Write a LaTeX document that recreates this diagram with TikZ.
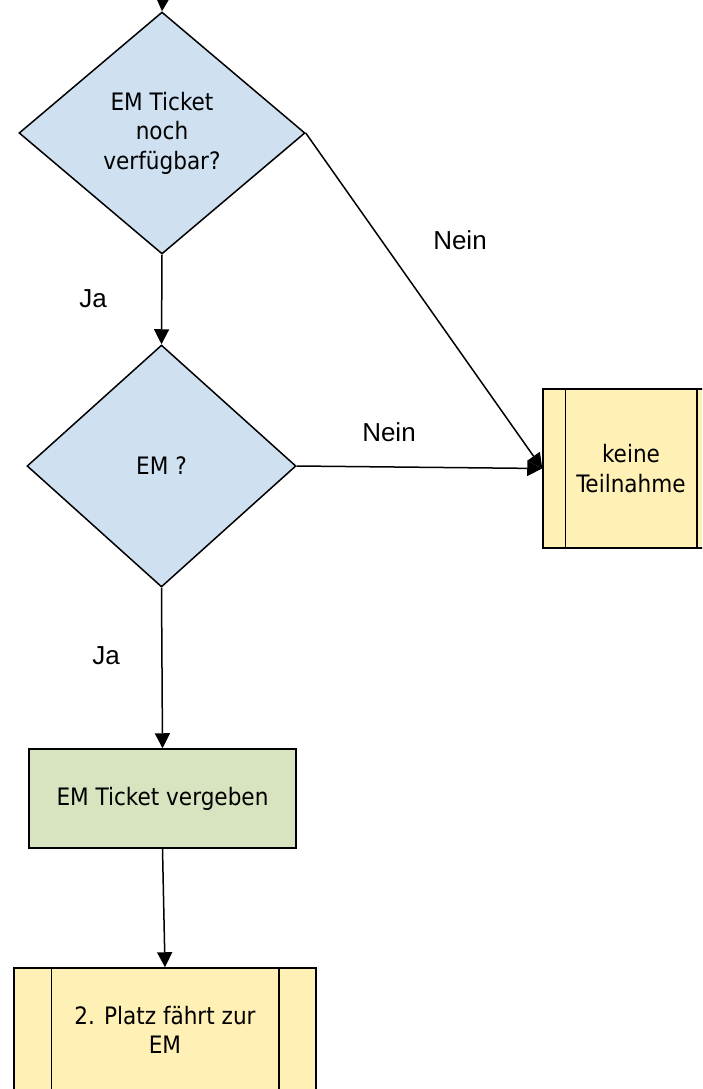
\documentclass[tikz,border=0pt]{standalone}
\usepackage{fontspec}
\setmainfont{Liberation Sans}
\newfontfamily\nodefont{DejaVu Sans Condensed}
\newfontfamily\labelfont{Liberation Sans}
\usetikzlibrary{shapes.geometric,arrows.meta}
\definecolor{dblue}{HTML}{CFE0F1}
\definecolor{pyellow}{HTML}{FFF1B5}
\definecolor{bgreen}{HTML}{D8E4BF}
\tikzset{
  nodetext/.style={font=\nodefont\fontsize{24}{29.5}\selectfont},
  dec/.style={diamond, draw=black, line width=1.5pt, fill=dblue, inner sep=0pt, align=center, nodetext},
  procbox/.style={rectangle, draw=black, line width=1.5pt, fill=bgreen, inner sep=0pt, align=center, nodetext},
  subbox/.style={rectangle, draw=black, line width=1.5pt, fill=pyellow, inner sep=0pt, align=center, nodetext},
  arr/.style={line width=1.5pt, -{Triangle[width=15pt,length=15pt]}},
  lbl/.style={font=\labelfont\fontsize{26}{30}\selectfont, inner sep=0pt}
}
\begin{document}
\begin{tikzpicture}[x=1pt,y=-1pt]
\useasboundingbox (0,0) rectangle (702,1089);
\clip (0,0) rectangle (702,1089);
\fill[white] (0,0) rectangle (702,1089);
% nodes
\node[dec, minimum width=286pt, minimum height=242pt] (d1) at (162,133) {EM Ticket\\noch\\verfügbar?};
\node[dec, minimum width=269pt, minimum height=242pt] (d2) at (161.5,466) {EM ?};
\node[subbox, minimum width=176pt, minimum height=159pt] (k) at (631,468.5) {keine\\Teilnahme};
\draw[line width=1.5pt] ([xshift=23pt]k.north west) -- ([xshift=23pt]k.south west);
\draw[line width=1.5pt] ([xshift=-23pt]k.north east) -- ([xshift=-23pt]k.south east);
\node[procbox, minimum width=267pt, minimum height=99pt] (g) at (162.5,798.5) {EM Ticket vergeben};
\node[subbox, minimum width=302pt, minimum height=124pt] (p) at (165,1030) {2. Platz fährt zur\\EM};
\draw[line width=1.5pt] ([xshift=38pt]p.north west) -- ([xshift=38pt]p.south west);
\draw[line width=1.5pt] ([xshift=-38pt]p.north east) -- ([xshift=-38pt]p.south east);
% connectors
\coordinate (start) at (163,-5);
\draw[arr] (start) -- (d1.north);
\draw[arr] (d1.south) -- (d2.north);
\draw[arr] (d1.east) -- (k.west);
\draw[arr] (d2.east) -- (k.west);
\draw[arr] (d2.south) -- (g.north);
\draw[arr] (g.south) -- (p.north);
% labels
\node[lbl] (ja1) at (93,299) {Ja};
\node[lbl] (nein1) at (460,240) {Nein};
\node[lbl] (nein2) at (389,432) {Nein};
\node[lbl] (ja2) at (106,656) {Ja};
\end{tikzpicture}
\end{document}
